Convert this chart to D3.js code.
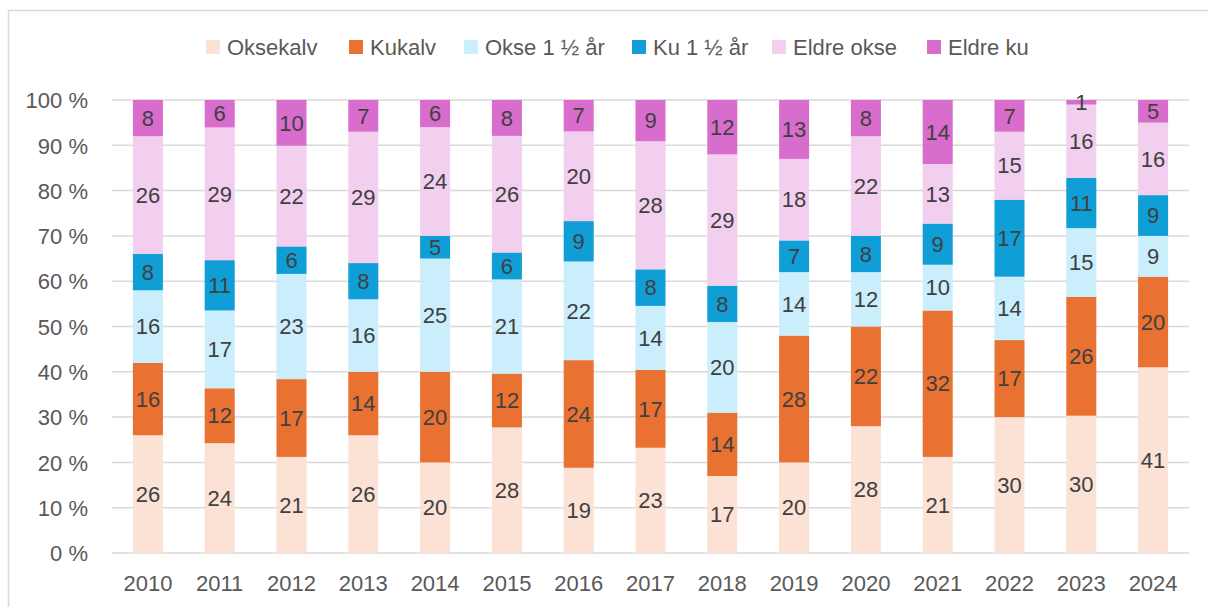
<!DOCTYPE html>
<html>
<head>
<meta charset="utf-8">
<script src="https://cdn.jsdelivr.net/npm/d3@7"></script>
<style>
  html, body { margin: 0; padding: 0; background: #fff; }
  svg { display: block; font-family: "Liberation Sans", Arial, sans-serif; }
</style>
</head>
<body>
<svg id="chart" width="1208" height="607"></svg>
<script>
const years = ["2010","2011","2012","2013","2014","2015","2016","2017","2018","2019","2020","2021","2022","2023","2024"];
const seriesNames = ["Oksekalv", "Kukalv", "Okse 1 ½ år", "Ku 1 ½ år", "Eldre okse", "Eldre ku"];
const oksekalv  = [26, 24, 21, 26, 20, 28, 19, 23, 17, 20, 28, 21, 30, 30, 41];
const kukalv    = [16, 12, 17, 14, 20, 12, 24, 17, 14, 28, 22, 32, 17, 26, 20];
const okse15    = [16, 17, 23, 16, 25, 21, 22, 14, 20, 14, 12, 10, 14, 15, 9];
const ku15      = [8, 11, 6, 8, 5, 6, 9, 8, 8, 7, 8, 9, 17, 11, 9];
const eldreOkse = [26, 29, 22, 29, 24, 26, 20, 28, 29, 18, 22, 13, 15, 16, 16];
const eldreKu   = [8, 6, 10, 7, 6, 8, 7, 9, 12, 13, 8, 14, 7, 1, 5];
const yTicks = [0, 0.1, 0.2, 0.3, 0.4, 0.5, 0.6, 0.7, 0.8, 0.9, 1.0];
const colors = ["#FBE2D5", "#E97132", "#CAEEFB", "#0F9ED5", "#F2CEEF", "#D86DCD"];

const seriesValues = [oksekalv, kukalv, okse15, ku15, eldreOkse, eldreKu];
const rows = years.map((y, i) => {
  const r = { year: y };
  seriesNames.forEach((s, k) => r[s] = seriesValues[k][i]);
  return r;
});

const svg = d3.select("#chart");
const fontSize = 22;
const textAxis = "#595959";
const textLabel = "#404040";

// frame
svg.append("rect")
  .attr("x", 8.5).attr("y", 10.5)
  .attr("width", 1300).attr("height", 700)
  .attr("fill", "none").attr("stroke", "#D9D9D9").attr("stroke-width", 1.5);

const x = d3.scaleBand().domain(years).range([112, 1189]).paddingInner(0.582).paddingOuter(0.291);
const y = d3.scaleLinear().domain([0, 1]).range([553, 100]);

// gridlines
svg.append("g").selectAll("line").data(yTicks).join("line")
  .attr("x1", 112).attr("x2", 1189)
  .attr("y1", d => y(d)).attr("y2", d => y(d))
  .attr("stroke", "#D9D9D9").attr("stroke-width", 1.5);

// y axis labels
const yAxis = d3.axisLeft(y).tickValues(yTicks).tickSize(0).tickPadding(0)
  .tickFormat(d => Math.round(d * 100) + " %");
const yg = svg.append("g").attr("transform", "translate(88,0)").call(yAxis);
yg.select(".domain").remove();
yg.selectAll("text").attr("fill", textAxis).attr("font-size", fontSize)
  .attr("font-family", "Liberation Sans, Arial, sans-serif").attr("dy", "0.35em");

// x axis labels
const xAxis = d3.axisBottom(x).tickSize(0).tickPadding(0);
const xg = svg.append("g").attr("transform", "translate(0,575)").call(xAxis);
xg.select(".domain").remove();
xg.selectAll("text").attr("fill", textAxis).attr("font-size", fontSize)
  .attr("font-family", "Liberation Sans, Arial, sans-serif").attr("dy", "0.71em");

// stacks
const stack = d3.stack().keys(seriesNames).offset(d3.stackOffsetExpand);
const stacked = stack(rows);

const layers = svg.append("g").selectAll("g").data(stacked).join("g")
  .attr("fill", (d, i) => colors[i]);

layers.selectAll("rect").data(d => d).join("rect")
  .attr("x", d => x(d.data.year))
  .attr("width", x.bandwidth())
  .attr("y", d => y(d[1]))
  .attr("height", d => y(d[0]) - y(d[1]));

// data labels
const labels = svg.append("g");
stacked.forEach((layer, i) => {
  labels.selectAll(null).data(layer).join("text")
    .attr("x", d => x(d.data.year) + x.bandwidth() / 2)
    .attr("y", d => (y(d[0]) + y(d[1])) / 2)
    .attr("dy", "0.35em")
    .attr("text-anchor", "middle")
    .attr("font-size", fontSize)
    .attr("fill", textLabel)
    .text(d => d.data[layer.key]);
});

// legend
const legendX = [206, 349, 464, 632, 772, 927];
const lg = svg.append("g");
seriesNames.forEach((s, i) => {
  lg.append("rect").attr("x", legendX[i]).attr("y", 40).attr("width", 14).attr("height", 14).attr("fill", colors[i]);
  lg.append("text").attr("x", legendX[i] + 21).attr("y", 47).attr("dy", "0.35em")
    .attr("font-size", fontSize).attr("fill", textAxis).text(s);
});
</script>
</body>
</html>
